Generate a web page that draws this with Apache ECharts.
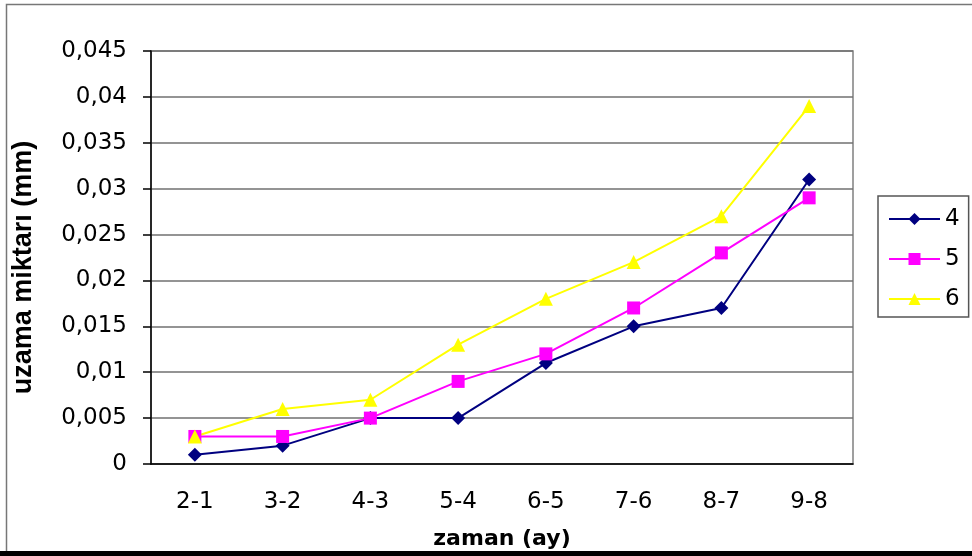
<!DOCTYPE html>
<html>
<head>
<meta charset="utf-8">
<script src="https://cdn.jsdelivr.net/npm/echarts@6/dist/echarts.min.js"></script>
<style>
  html, body { margin: 0; padding: 0; background: #fff; }
  #chart { width: 972px; height: 556px; }
</style>
</head>
<body>
<div id="chart"></div>
<script>
// Elongation per month interval for three samples
const categories = ['2-1', '3-2', '4-3', '5-4', '6-5', '7-6', '8-7', '9-8'];
const series4 = [0.001, 0.002, 0.005, 0.005, 0.011, 0.015, 0.017, 0.031];
const series5 = [0.003, 0.003, 0.005, 0.009, 0.012, 0.017, 0.023, 0.029];
const series6 = [0.003, 0.006, 0.007, 0.013, 0.018, 0.022, 0.027, 0.039];
const seriesNames = ['4', '5', '6'];

const chart = echarts.init(document.getElementById('chart'), null, { renderer: 'canvas' });

const wideFont = '"DejaVu Sans", sans-serif';
const arialFont = '"Liberation Sans", Arial, sans-serif';

function lineSeries(name, data, color, symbol, size) {
  return {
    name: name,
    type: 'line',
    data: data,
    symbol: symbol,
    symbolSize: size,
    showSymbol: true,
    lineStyle: { color: color, width: 2 },
    itemStyle: { color: color, borderWidth: 0 },
    emphasis: { disabled: true },
    animation: false,
    z: 3
  };
}

chart.setOption({
  backgroundColor: '#ffffff',
  animation: false,
  graphic: [
    {
      type: 'rect',
      shape: { x: 6.5, y: 4.5, width: 975, height: 560 },
      style: { fill: 'none', stroke: '#777', lineWidth: 1.5 },
      z: -1
    },
    {
      type: 'rect',
      shape: { x: 0, y: 551, width: 972, height: 5 },
      style: { fill: '#000' },
      z: 10
    }
  ],
  grid: {
    left: 151, top: 51, right: 119, bottom: 92,
    show: true,
    borderColor: '#808080',
    borderWidth: 1.5,
    containLabel: false
  },
  legend: {
    orient: 'vertical',
    left: 878,
    top: 196,
    padding: [11, 9, 6, 10],
    itemGap: 16,
    itemWidth: 51,
    itemHeight: 15,
    borderColor: '#555',
    borderWidth: 1.5,
    backgroundColor: '#fff',
    lineStyle: { width: 2 },
    textStyle: { fontFamily: wideFont, fontSize: 23, lineHeight: 24, color: '#000' },
    data: seriesNames
  },
  xAxis: {
    type: 'category',
    data: categories,
    boundaryGap: true,
    name: 'zaman (ay)',
    nameLocation: 'middle',
    nameGap: 64,
    nameTextStyle: { fontFamily: wideFont, fontSize: 22, fontWeight: 'bold', color: '#000' },
    axisLine: { show: true, lineStyle: { color: '#000', width: 1.5 } },
    axisTick: { show: false },
    axisLabel: { fontFamily: wideFont, fontSize: 23, color: '#000', margin: 27 },
    splitLine: { show: false }
  },
  yAxis: {
    type: 'value',
    min: 0,
    max: 0.045,
    interval: 0.005,
    name: 'uzama miktarı (mm)',
    nameLocation: 'middle',
    nameGap: 114,
    nameRotate: 90,
    nameTextStyle: {
      fontFamily: arialFont, fontSize: 27, fontWeight: 'bold', color: '#000',
      padding: [0, 20, 0, 0]
    },
    axisLine: { show: true, onZero: false, lineStyle: { color: '#000', width: 1.5 } },
    axisTick: { show: true, inside: false, length: 8, lineStyle: { color: '#000', width: 1.5 } },
    axisLabel: {
      fontFamily: wideFont, fontSize: 23, color: '#000', margin: 24,
      formatter: function (v) { return String(+v.toFixed(3)).replace('.', ','); }
    },
    splitLine: { show: true, lineStyle: { color: '#707070', width: 1.5 } }
  },
  series: [
    lineSeries(seriesNames[0], series4, '#000080', 'diamond', 14),
    lineSeries(seriesNames[1], series5, '#FF00FF', 'rect', 13),
    lineSeries(seriesNames[2], series6, '#FFFF00', 'triangle', 14)
  ]
});
</script>
</body>
</html>
